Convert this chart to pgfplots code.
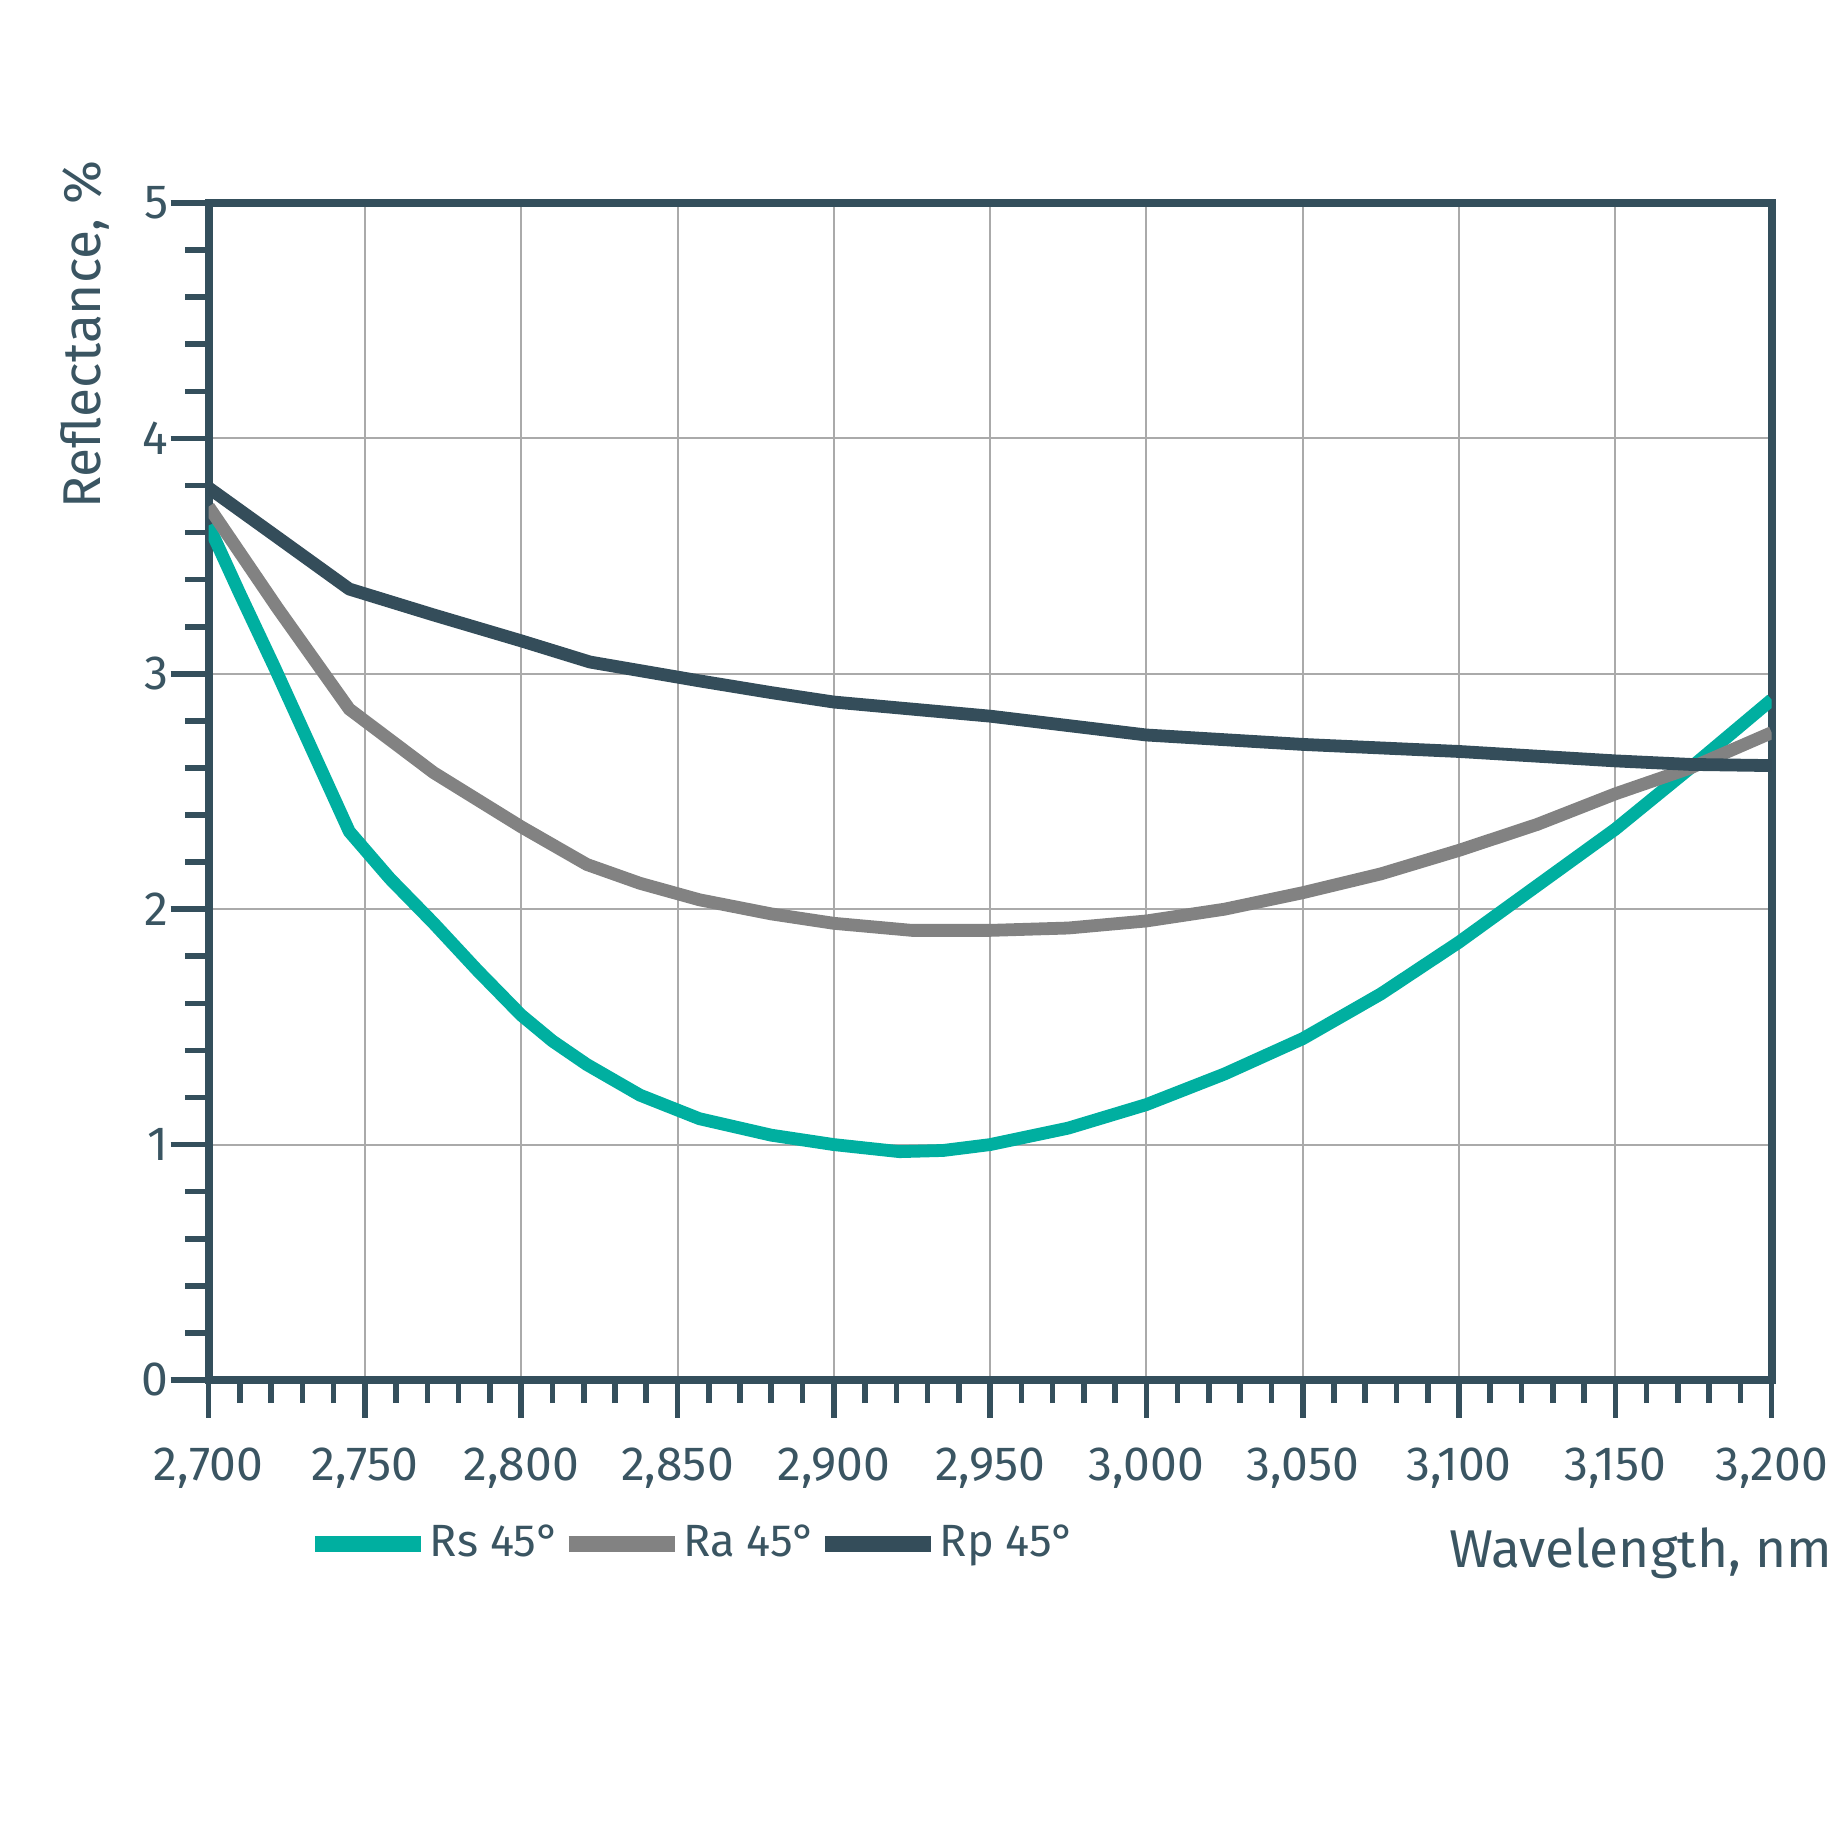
\documentclass[border=0pt]{standalone}
\usepackage{pgfplots}
\pgfplotsset{compat=1.18}
\usepackage{fontspec}
\setmainfont{Fira Sans}
\definecolor{axc}{HTML}{344F5C}
\definecolor{txc}{HTML}{3A5562}
\definecolor{rsc}{HTML}{00AFA0}
\definecolor{rac}{HTML}{828282}
\definecolor{rpc}{HTML}{344D5A}
\definecolor{grc}{HTML}{AAAAAA}
\begin{document}
\begin{tikzpicture}
\path[use as bounding box] (0,0) rectangle (462pt,462pt);
\begin{axis}[
  at={(52.15pt,117pt)}, anchor=south west,
  scale only axis, width=390.75pt, height=294.25pt,
  xmin=2700, xmax=3200, ymin=0, ymax=5,
  xtick={2700,2750,...,3200},
  xticklabels={{2,700},{2,750},{2,800},{2,850},{2,900},{2,950},{3,000},{3,050},{3,100},{3,150},{3,200}},
  ytick={0,1,2,3,4,5},
  yticklabels={0,1,2,3,4,5},
  minor x tick num=4, minor y tick num=4,
  xtick pos=bottom, ytick pos=left,
  tick align=outside,
  major tick length=9.5pt, minor tick length=5.8pt,
  every tick/.style={axc, line width=1.4pt},
  axis line style={axc, line width=2pt},
  grid=major,
  major grid style={grc, line width=0.5pt},
  tick label style={font=\fontsize{12}{14}\selectfont, text=txc},
  xticklabel style={yshift=-4pt},
  yticklabel style={xshift=3pt},
  xlabel={Wavelength, nm},
  ylabel={Reflectance, \%},
  every axis x label/.style={at={(axis description cs:1.0390,-0.147)}, anchor=east, inner sep=0pt,
    font=\fontsize{13.3}{15}\selectfont, text=txc},
  every axis y label/.style={at={(axis description cs:-0.0793,1.037)}, anchor=east, rotate=90, inner sep=0pt,
    font=\fontsize{13.3}{15}\selectfont, text=txc},
  legend columns=3,
  legend style={at={(axis description cs:0.0625,-0.139)}, anchor=west, draw=none, fill=none, inner sep=0pt,
    font=\fontsize{11.3}{13}\selectfont, text=txc,
    nodes={inner sep=0.2pt},
    /tikz/every even column/.append style={column sep=0pt}},
  legend image code/.code={\draw[#1, line width=4pt] (0pt,0pt) -- (26.5pt,0pt);},
  every axis plot/.append style={line width=3.2pt, line join=round},
]
\addplot[rsc] coordinates {
(2700,3.63) (2710,3.34) (2721,3.03) (2733,2.68) (2745,2.33) (2758,2.13) (2772,1.94) (2786,1.74) (2800,1.55) (2810,1.44) (2821,1.34) (2838,1.21) (2857,1.11)
(2880,1.04) (2900,1.00) (2921,0.97) (2935,0.975) (2950,1.00) (2975,1.07) (3000,1.17) (3025,1.30)
(3050,1.45) (3075,1.64) (3100,1.86) (3125,2.10) (3150,2.34) (3174,2.60) (3200,2.89)};
\addlegendentry{Rs 45°}
\addplot[rac] coordinates {
(2700,3.71) (2722,3.28) (2745,2.85) (2772,2.58) (2800,2.35) (2821,2.19) (2838,2.11) (2857,2.04) (2880,1.98) (2900,1.94) (2925,1.91)
(2950,1.91) (2975,1.92) (3000,1.95) (3025,2.00) (3050,2.07) (3075,2.15) (3100,2.25)
(3125,2.36) (3150,2.49) (3174,2.60) (3200,2.75)};
\addlegendentry{Ra 45°}
\addplot[rpc] coordinates {
(2700,3.79) (2722,3.58) (2745,3.36) (2772,3.25) (2800,3.14) (2822,3.05) (2857,2.97) (2880,2.92) (2900,2.88) (2925,2.85) (2950,2.82) (2975,2.78)
(3000,2.74) (3025,2.72) (3050,2.70) (3075,2.685) (3100,2.67) (3125,2.65) (3150,2.63) (3174,2.615) (3200,2.61)};
\addlegendentry{Rp 45°}
\end{axis}
\end{tikzpicture}
\end{document}
